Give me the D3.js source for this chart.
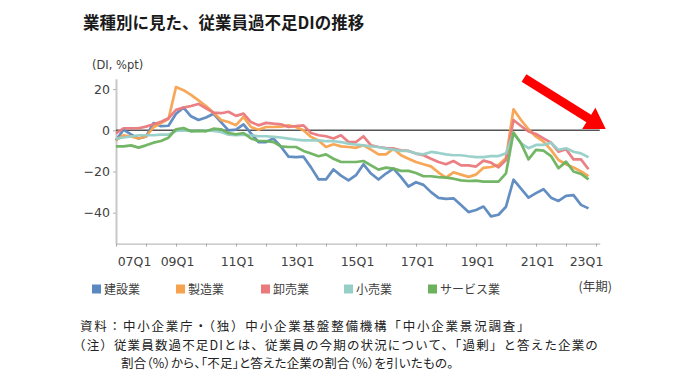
<!DOCTYPE html>
<html><head><meta charset="utf-8">
<script src="https://cdn.jsdelivr.net/npm/d3@7"></script>
<style>
body{margin:0;background:#fff;}
svg{display:block;}
</style></head><body>
<svg id="c" width="690" height="380"></svg>
<script>
// ---- data ----
const startYear = 2007;
const quarters = d3.range(64).map(i => String((startYear + Math.floor(i / 4)) % 100).padStart(2, "0") + "Q" + (i % 4 + 1));
const tickLabels = ["07Q1","09Q1","11Q1","13Q1","15Q1","17Q1","19Q1","21Q1","23Q1"];
const yTicks = [20, 0, -20, -40];
const seriesNames = ["建設業","製造業","卸売業","小売業","サービス業"];
const construction = [-5,0.3,-2,-4,-3,3.5,2,2.2,8,11,6.8,5,6.2,8,4,0,0.3,2.9,-1.5,-5.7,-5.7,-4,-8,-12.8,-13,-12.8,-18,-23.8,-23.8,-19,-22,-24.3,-21.8,-16.5,-21,-23.9,-21,-18.6,-22.7,-27.3,-25.2,-26.5,-30,-32.8,-33.3,-33,-36.3,-39.7,-38.7,-37,-41.8,-41,-37.1,-24,-28.3,-32.7,-30.5,-28.6,-32.7,-34.3,-31.8,-31.5,-36.2,-37.9];
const manufacturing = [-4.7,-2.5,-3,-4,-3,1.5,3.5,5.5,21,19.5,17.2,14.5,11.8,8.5,5,4,2.5,6.5,1.6,0.3,1.6,1.6,1.8,2.4,1.6,0,-3.2,-4.9,-8.1,-6.8,-7.8,-8.1,-8.5,-7.3,-9.4,-11.7,-11.7,-8.9,-12.1,-13.8,-15.4,-16.5,-17.5,-20.5,-23,-20.4,-21.5,-22.6,-21.5,-18.2,-17.8,-16.8,-13.4,10.2,5,0.5,-3.1,-5.5,-9.5,-14.4,-16.5,-18,-20,-22.2];
const wholesale = [-1.5,1,1,1,1.8,2.9,4.2,5.8,9.9,11,11.8,12.8,10.7,8.6,8.3,9,7,8.1,4,2.4,3.6,3.2,2.9,1.6,2.1,2.4,-1.3,-2.4,-2.9,-4,-2.4,-5.7,-5.7,-2.9,-7.3,-8.1,-8.6,-8.9,-9.7,-10,-11.3,-12.1,-13.8,-15.4,-16.5,-14.9,-17,-17,-17.6,-14.7,-15.7,-18,-14.4,5,2.1,-0.6,-1.8,-3.9,-6,-10.4,-9.2,-14.1,-14.1,-18.9];
const retail = [-4,-3.5,-3,-2.4,-2.4,-2.4,-2.1,-2.1,-0.3,0,-0.3,-0.3,0,-0.3,-0.8,-2.1,-2.4,-2.1,-2.4,-2.9,-2.9,-3.2,-3.5,-4,-4.5,-4.9,-4.9,-4.9,-5.3,-5.3,-5.7,-6.5,-7,-7.3,-7.8,-8.1,-8.9,-9.4,-10,-10,-11.3,-11.7,-10.5,-11,-11.7,-12.1,-12.1,-12.6,-13,-13,-12.5,-12.5,-11.2,-1.5,-6.3,-8.7,-7.1,-7.1,-6,-9.5,-8.7,-10.4,-11.2,-13.1];
const services = [-7.8,-7.8,-7.3,-8.4,-7.3,-6,-5.2,-3.6,0.5,1.1,-0.5,-0.3,-0.5,0.8,0.5,-1.3,-1.9,-1.3,-4,-5.2,-5.2,-5.7,-7.8,-8.1,-8.1,-10,-11.3,-12.6,-11.7,-13.8,-15.4,-15.4,-15.4,-14.9,-17,-19.1,-18.1,-18.6,-19.7,-19.7,-20.7,-22.3,-22.3,-22.7,-23,-23.5,-24.3,-24.6,-24.4,-24.9,-24.9,-24.9,-20.9,-1.1,-6.3,-14.1,-9.5,-9.9,-12.5,-18.4,-15.2,-20,-21.2,-23.8];
const colors = ["#5B88BF","#F7A24E","#EA797D","#96CFC8","#6CB25E"];

// ---- layout ----
const svg = d3.select("#c");
const JP = "'Noto Sans CJK JP','Noto Sans',sans-serif";
const LAT = "'DejaVu Sans',sans-serif";
const x = d3.scaleLinear().domain([0, 64.5]).range([116, 599.75]);
const y = d3.scaleLinear().domain([-55, 25]).range([243.6, 78.8]);

// title
svg.append("text").attr("x", 83).attr("y", 29).attr("font-family", JP).attr("font-weight", "bold")
  .attr("font-size", 16.5).attr("fill", "#1a1a1a").text("業種別に見た、従業員過不足DIの推移");
svg.append("text").attr("x", 92).attr("y", 69).attr("font-family", LAT).attr("font-size", 11.5)
  .attr("fill", "#404040").text("(DI, %pt)");

// y axis
const ya = svg.append("g").attr("transform", `translate(${x(0)},0)`)
  .call(d3.axisLeft(y).tickValues(yTicks).tickSize(3).tickSizeOuter(0).tickPadding(3));
ya.select(".domain").attr("stroke", "#c8c8c8").attr("stroke-width", 2);
ya.selectAll(".tick line").attr("stroke", "#b0b0b0");
ya.selectAll(".tick text").attr("font-family", LAT).attr("font-size", 12.5).attr("fill", "#404040");

// x axis
const xa = svg.append("g").attr("transform", `translate(0,${y(-55)})`)
  .call(d3.axisBottom(x).tickValues(d3.range(0, 65, 4)).tickSize(3).tickSizeOuter(0).tickFormat(""));
xa.select(".domain").attr("stroke", "#bdbdbd").attr("stroke-width", 1.3);
xa.selectAll(".tick line").attr("stroke", "#a8a8a8");
const xl = svg.append("g").attr("transform", `translate(0,${y(-55)})`)
  .call(d3.axisBottom(x).tickValues(d3.range(0, 65, 8)).tickSize(0).tickPadding(14)
    .tickFormat((d, i) => tickLabels[i]));
xl.select(".domain").remove();
xl.selectAll(".tick text").attr("font-family", LAT).attr("font-size", 12.5).attr("fill", "#404040")
  .attr("dx", (d, i) => i === 0 ? 18 : (i === tickLabels.length - 1 ? -10 : 1));

// zero line
svg.append("line").attr("x1", x(0)).attr("x2", x(64.5)).attr("y1", y(0)).attr("y2", y(0))
  .attr("stroke", "#555").attr("stroke-width", 1.5);

// series lines
const all = [construction, manufacturing, wholesale, retail, services];
const line = d3.line().x((d, i) => x(i)).y(d => y(d));
all.forEach((s, k) => {
  svg.append("path").datum(s).attr("d", line).attr("fill", "none")
    .attr("stroke", colors[k]).attr("stroke-width", 2.7).attr("stroke-linejoin", "round")
    .attr("stroke-opacity", 0.95);
});

// legend
const legendX = [92, 176, 261, 344, 428];
seriesNames.forEach((n, k) => {
  const g = svg.append("g").attr("transform", `translate(${legendX[k]},289)`);
  g.append("rect").attr("x", 0).attr("y", -4.5).attr("width", 9).attr("height", 9).attr("fill", colors[k]);
  g.append("text").attr("x", 12).attr("y", 4.5).attr("font-family", JP).attr("font-size", 12)
    .attr("fill", "#404040").text(n);
});
svg.append("text").attr("x", 612).attr("y", 290.5).attr("text-anchor", "end").attr("font-family", JP)
  .attr("font-size", 12.5).attr("fill", "#404040").text("(年期)");

// notes
const notes = [
  {x: 80, y: 331, ls: 1.8, palt: false, t: "資料：中小企業庁・（独）中小企業基盤整備機構「中小企業景況調査」"},
  {x: 73, y: 349.5, ls: 1.15, palt: false, t: "（注）従業員数過不足DIとは、従業員の今期の状況について、「過剰」と答えた企業の"},
  {x: 121, y: 368, ls: 0.2, palt: true, t: "割合（%）から、「不足」と答えた企業の割合（%）を引いたもの。"}
];
notes.forEach(n => svg.append("text").attr("x", n.x).attr("y", n.y).attr("font-family", JP)
  .attr("font-size", 12.5).attr("fill", "#222").attr("letter-spacing", n.ls)
  .style("font-feature-settings", n.palt ? "'palt'" : "normal").text(n.t));

// red arrow annotation
const a0 = [x(54.4), y(25.4)], a1 = [x(65.3), y(0.6)];
const dx = a1[0] - a0[0], dy = a1[1] - a0[1], L = Math.hypot(dx, dy);
const ux = dx / L, uy = dy / L, nx = -uy, ny = ux;
const hw = 4.5, hh = 12.5, hl = 20;
const bx = a1[0] - ux * hl, by = a1[1] - uy * hl;
const pts = [
  [a0[0] + nx * hw, a0[1] + ny * hw], [bx + nx * hw, by + ny * hw], [bx + nx * hh, by + ny * hh],
  a1, [bx - nx * hh, by - ny * hh], [bx - nx * hw, by - ny * hw], [a0[0] - nx * hw, a0[1] - ny * hw]
];
svg.append("path").attr("d", d3.line()(pts) + "Z").attr("fill", "#FF0000");
</script>
</body></html>
